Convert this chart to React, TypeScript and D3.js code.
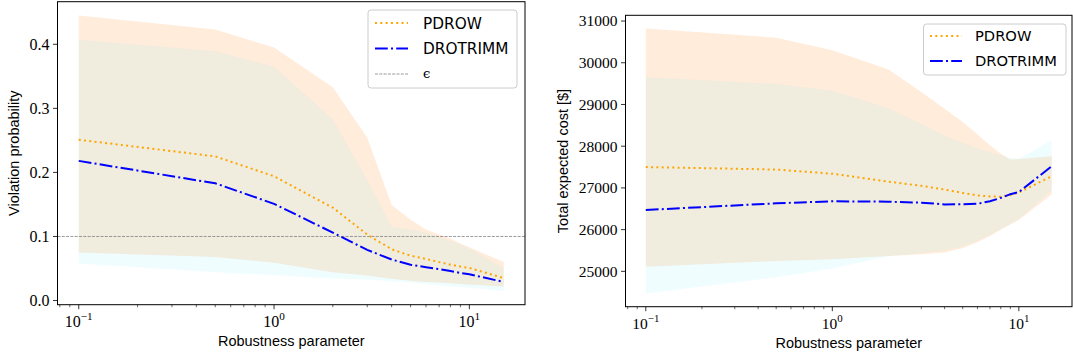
import React from 'react';
import * as d3 from 'd3';

// robustness parameter values (x axis, log scale)
const xs = [0.1, 0.5, 1, 2, 3, 4, 5, 6, 7, 8, 9, 10, 15];
const seriesNames = ['PDROW', 'DROTRIMM'];
const epsilonLabel = 'ϵ';
const epsilonValue = 0.1;

// violation probability
const pdrowViolMean = [0.251, 0.225, 0.194, 0.145, 0.103, 0.080, 0.070, 0.065, 0.060, 0.056, 0.053, 0.051, 0.035];
const pdrowViolHigh = [0.445, 0.423, 0.395, 0.333, 0.254, 0.149, 0.126, 0.111, 0.103, 0.097, 0.089, 0.083, 0.060];
const pdrowViolLow = [0.075, 0.068, 0.059, 0.044, 0.039, 0.034, 0.031, 0.029, 0.028, 0.027, 0.026, 0.025, 0.022];
const droViolMean = [0.218, 0.183, 0.151, 0.106, 0.079, 0.064, 0.056, 0.052, 0.049, 0.046, 0.043, 0.041, 0.029];
const droViolHigh = [0.407, 0.389, 0.365, 0.283, 0.188, 0.115, 0.111, 0.106, 0.099, 0.093, 0.087, 0.081, 0.051];
const droViolLow = [0.058, 0.044, 0.040, 0.034, 0.033, 0.030, 0.028, 0.026, 0.024, 0.022, 0.021, 0.020, 0.015];

// total expected cost
const pdrowCostMean = [27500, 27440, 27340, 27150, 27050, 26960, 26880, 26820, 26795, 26790, 26830, 26890, 27280];
const pdrowCostHigh = [30820, 30600, 30300, 29840, 29300, 28900, 28580, 28280, 28020, 27820, 27680, 27690, 27760];
const pdrowCostLow = [25110, 25250, 25290, 25370, 25410, 25450, 25560, 25700, 25850, 26000, 26120, 26230, 26850];
const droCostMean = [26470, 26630, 26680, 26670, 26645, 26605, 26610, 26620, 26680, 26760, 26850, 26900, 27520];
const droCostHigh = [29650, 29490, 29330, 28910, 28530, 28250, 28080, 27950, 27850, 27780, 27720, 27700, 28150];
const droCostLow = [24470, 24860, 25070, 25360, 25440, 25500, 25600, 25740, 25880, 26020, 26140, 26260, 26950];

const violTicks = [0, 0.1, 0.2, 0.3, 0.4];
const costTicks = [25000, 26000, 27000, 28000, 29000, 30000, 31000];
const xTickExps = ['−1', '0', '1'];

const fills = ['rgba(255,127,14,0.15)', 'rgba(110,240,255,0.1)'];
const lineColors = ['orange', 'blue'];
const dashes = ['2,3.3', '12.8,3.2,2,3.2'];

const serif = '"Liberation Serif", "DejaVu Serif", serif';
const sans = '"Liberation Sans", Arial, sans-serif';

type Box = { left: number; right: number; top: number; bottom: number };

function Panel({ box, means, lows, highs, ticks, tickFormat, yLabel, yLabelX, eps, legend, fontSize }: any) {
  const b: Box = box;
  const lo = d3.min([...lows[0], ...lows[1]]) as number;
  const hi = d3.max([...highs[0], ...highs[1]]) as number;
  const pad = (hi - lo) * 0.05;
  const y = d3.scaleLinear().domain([lo - pad, hi + pad]).range([b.bottom, b.top]);

  const lx = (d3.extent(xs) as number[]).map(Math.log10);
  const px = (lx[1] - lx[0]) * 0.05;
  const x = d3.scaleLog().domain([10 ** (lx[0] - px), 10 ** (lx[1] + px)]).range([b.left, b.right]);

  const majors = x.ticks().filter(t => Math.abs(Math.log10(t) - Math.round(Math.log10(t))) < 1e-6);
  const minors = x.ticks().filter(t => Math.abs(Math.log10(t) - Math.round(Math.log10(t))) > 1e-6);

  const area = (l: number[], h: number[]) =>
    d3.area<number>()
      .x(d => x(d))
      .y0((d, i) => y(l[i]))
      .y1((d, i) => y(h[i]))(xs) as string;
  const line = (m: number[]) =>
    d3.line<number>()
      .x(d => x(d))
      .y((d, i) => y(m[i]))(xs) as string;

  const midY = (b.top + b.bottom) / 2;
  const midX = (b.left + b.right) / 2;
  const entries = eps ? [...seriesNames, epsilonLabel] : seriesNames;

  return (
    <g>
      {[0, 1].map(k => (
        <path key={'f' + k} d={area(lows[k], highs[k])} fill={fills[k]} stroke="none" />
      ))}
      {eps && (
        <line x1={b.left} x2={b.right} y1={y(epsilonValue)} y2={y(epsilonValue)}
          stroke="#808080" strokeWidth={0.8} strokeDasharray="3,1.3" />
      )}
      {[0, 1].map(k => (
        <path key={'l' + k} d={line(means[k])} fill="none" stroke={lineColors[k]}
          strokeWidth={2} strokeDasharray={dashes[k]} />
      ))}

      <rect x={b.left} y={b.top} width={b.right - b.left} height={b.bottom - b.top}
        fill="none" stroke="#000" strokeWidth={1} />

      {ticks.map((t: number) => (
        <g key={'y' + t}>
          <line x1={b.left - 4.5} x2={b.left} y1={y(t)} y2={y(t)} stroke="#000" strokeWidth={0.8} />
          <text x={b.left - 8} y={y(t)} dy="0.35em" textAnchor="end"
            fontFamily={serif} fontSize={fontSize}>{tickFormat(t)}</text>
        </g>
      ))}
      {minors.map(t => (
        <line key={'m' + t} x1={x(t)} x2={x(t)} y1={b.bottom} y2={b.bottom + 2.5} stroke="#000" strokeWidth={0.6} />
      ))}
      {majors.map((t, i) => (
        <g key={'x' + t}>
          <line x1={x(t)} x2={x(t)} y1={b.bottom} y2={b.bottom + 4.5} stroke="#000" strokeWidth={0.8} />
          <text x={x(t)} y={b.bottom + 22} textAnchor="middle" fontFamily={serif} fontSize={fontSize}>
            10<tspan fontSize={fontSize * 0.7} dy={-6.5}>{xTickExps[i]}</tspan>
          </text>
        </g>
      ))}

      <text x={midX} y={b.bottom + 41.5} textAnchor="middle" fontFamily={sans} fontSize={14.5}>
        Robustness parameter
      </text>
      <text transform={`translate(${yLabelX},${midY}) rotate(-90)`} textAnchor="middle"
        fontFamily={sans} fontSize={14.5}>{yLabel}</text>

      <g transform={`translate(${legend.x},${legend.y})`}>
        <rect x={0} y={0} width={legend.w} height={legend.h} rx={3}
          fill="#fff" fillOpacity={0.8} stroke="#cccccc" strokeWidth={1} />
        {entries.map((name, i) => (
          <g key={name} transform={`translate(0,${legend.row0 + i * legend.step})`}>
            {i < 2 ? (
              <line x1={legend.s0} x2={legend.s1} y1={0} y2={0} stroke={lineColors[i]}
                strokeWidth={2} strokeDasharray={dashes[i]} />
            ) : (
              <line x1={legend.s0} x2={legend.s1} y1={0} y2={0} stroke="#808080"
                strokeWidth={0.8} strokeDasharray="3,1.3" />
            )}
            {i < 2 ? (
              <text x={legend.tx} y={0} dy="0.36em" fontFamily='"DejaVu Sans", sans-serif'
                fontSize={legend.fs}>{name}</text>
            ) : (
              <text x={legend.tx} y={0} dy="0.3em" fontFamily='"DejaVu Serif", serif'
                fontSize={legend.fs * 0.85}>{name}</text>
            )}
          </g>
        ))}
      </g>
    </g>
  );
}

export default function App() {
  return (
    <svg width={1073} height={358} style={{ position: 'absolute', left: 0, top: 0, background: '#fff' }}>
      <Panel
        box={{ left: 57.5, right: 525, top: 1.7, bottom: 304.7 }}
        means={[pdrowViolMean, droViolMean]}
        lows={[pdrowViolLow, droViolLow]}
        highs={[pdrowViolHigh, droViolHigh]}
        ticks={violTicks}
        tickFormat={d3.format('.1f')}
        yLabel="Violation probability"
        yLabelX={18.5}
        eps={true}
        fontSize={16}
        legend={{ x: 368, y: 10, w: 149, h: 78, row0: 13, step: 25.5, s0: 7, s1: 40, tx: 55, fs: 15.3 }}
      />
      <Panel
        box={{ left: 625.5, right: 1072, top: 15.3, bottom: 306.7 }}
        means={[pdrowCostMean, droCostMean]}
        lows={[pdrowCostLow, droCostLow]}
        highs={[pdrowCostHigh, droCostHigh]}
        ticks={costTicks}
        tickFormat={(v: number) => String(v)}
        yLabel="Total expected cost [$]"
        yLabelX={568}
        eps={false}
        fontSize={15.5}
        legend={{ x: 923.5, y: 24, w: 142.5, h: 51, row0: 12, step: 25, s0: 6.5, s1: 38.5, tx: 51.5, fs: 14.7 }}
      />
    </svg>
  );
}
